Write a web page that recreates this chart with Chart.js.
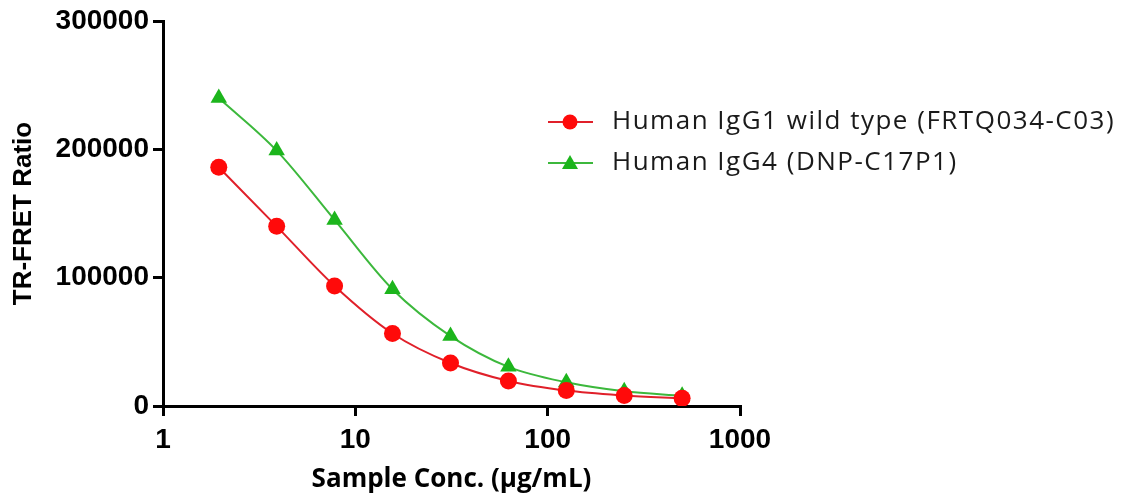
<!DOCTYPE html>
<html lang="en">
<head>
<meta charset="UTF-8">
<title>TR-FRET Ratio</title>
<script src="https://cdn.jsdelivr.net/npm/chart.js"></script>
<style>
    body { margin: 0; background: #fff; }
    .chart { width: 1123px; height: 499px; position: relative; }
</style>
</head>
<body>
<div class="chart">
    <canvas id="fretChart"></canvas>
</div>

<script>
    // sample concentrations (ug/mL), two-fold dilution series
    const concentracoes = [1.95, 3.9, 7.8, 15.6, 31.25, 62.5, 125, 250, 500];
    const igg1 = [186000, 140000, 93500, 56500, 33500, 19500, 12000, 8200, 6000];
    const igg4 = [240000, 199000, 145000, 91000, 54500, 30500, 18500, 11500, 8000];
    const nomes = ['Human IgG1 wild type (FRTQ034-C03)', 'Human IgG4 (DNP-C17P1)'];
    const ticksX = [1, 10, 100, 1000];
    const ticksY = [0, 100000, 200000, 300000];

    const vermelho = '#ff0a0a';
    const linhaVermelha = '#e0202a';
    const verde = '#1cb51c';
    const linhaVerde = '#3cb83c';

    function pontos(valores) {
        return concentracoes.map(function (c, i) { return { x: c, y: valores[i] }; });
    }

    // legenda desenhada dentro da area do grafico, como no original
    const legendaPlugin = {
        id: 'legendaPlugin',
        afterDraw(chart) {
            const c = chart.ctx;
            const linhas = [
                { y: 122, cor: linhaVermelha, ponto: vermelho, estilo: 'circle' },
                { y: 163, cor: linhaVerde, ponto: verde, estilo: 'triangle' }
            ];
            c.save();
            linhas.forEach(function (l, i) {
                c.strokeStyle = l.cor;
                c.lineWidth = 2;
                c.beginPath();
                c.moveTo(548, l.y);
                c.lineTo(593, l.y);
                c.stroke();
                c.fillStyle = l.ponto;
                c.beginPath();
                if (l.estilo === 'circle') {
                    c.arc(570, l.y, 7.5, 0, Math.PI * 2);
                } else {
                    c.moveTo(570, l.y - 8);
                    c.lineTo(578, l.y + 6);
                    c.lineTo(562, l.y + 6);
                    c.closePath();
                }
                c.fill();
                c.fillStyle = '#1a1a1a';
                c.font = '26px "Open Sans"';
                c.letterSpacing = '1.5px';
                c.textBaseline = 'middle';
                c.fillText(nomes[i], 612, l.y);
            });
            c.restore();
        }
    };

    const ctx = document.getElementById('fretChart').getContext('2d');

    const fretChart = new Chart(ctx, {
        type: 'line',
        data: {
            datasets: [{
                label: nomes[0],
                data: pontos(igg1),
                borderColor: linhaVermelha,
                backgroundColor: vermelho,
                borderWidth: 2,
                pointStyle: 'circle',
                pointRadius: 8.5,
                pointBorderWidth: 0,
                cubicInterpolationMode: 'monotone'
            }, {
                label: nomes[1],
                data: pontos(igg4),
                borderColor: linhaVerde,
                backgroundColor: verde,
                borderWidth: 2,
                pointStyle: 'triangle',
                pointRadius: 9.5,
                pointBorderWidth: 0,
                cubicInterpolationMode: 'monotone'
            }]
        },
        options: {
            responsive: true,
            maintainAspectRatio: false,
            animation: false,
            layout: {
                padding: { left: 8, right: 383, top: 21, bottom: 0 }
            },
            plugins: {
                legend: { display: false },
                tooltip: { enabled: false }
            },
            scales: {
                x: {
                    type: 'logarithmic',
                    min: 1,
                    max: 1000,
                    afterFit(s) { s.height = 93; },
                    afterBuildTicks(s) { s.ticks = ticksX.map(function (v) { return { value: v }; }); },
                    border: { display: true, color: '#000', width: 3 },
                    grid: { drawOnChartArea: false, color: '#000', lineWidth: 3, tickLength: 10 },
                    ticks: {
                        color: '#000',
                        padding: 7,
                        autoSkip: false,
                        maxRotation: 0,
                        font: { family: '"Liberation Sans", Arial', weight: 'bold', size: 28 },
                        callback: function (v) { return String(v); }
                    },
                    title: {
                        display: true,
                        text: 'Sample Conc. (μg/mL)',
                        color: '#000',
                        padding: { top: 0, bottom: 4 },
                        font: { family: '"Open Sans"', weight: 'bold', size: 26 }
                    }
                },
                y: {
                    min: 0,
                    max: 300000,
                    afterFit(s) { s.width = 155; },
                    afterBuildTicks(s) { s.ticks = ticksY.map(function (v) { return { value: v }; }); },
                    border: { display: true, color: '#000', width: 3 },
                    grid: { drawOnChartArea: false, color: '#000', lineWidth: 3, tickLength: 10 },
                    ticks: {
                        color: '#000',
                        padding: 4,
                        font: { family: '"Liberation Sans", Arial', weight: 'bold', size: 28 },
                        callback: function (v) { return String(v); }
                    },
                    title: {
                        display: true,
                        text: 'TR-FRET Ratio',
                        color: '#000',
                        padding: 0,
                        font: { family: '"Liberation Sans", Arial', weight: 'bold', size: 26 }
                    }
                }
            }
        },
        plugins: [legendaPlugin]
    });
</script>
</body>
</html>
